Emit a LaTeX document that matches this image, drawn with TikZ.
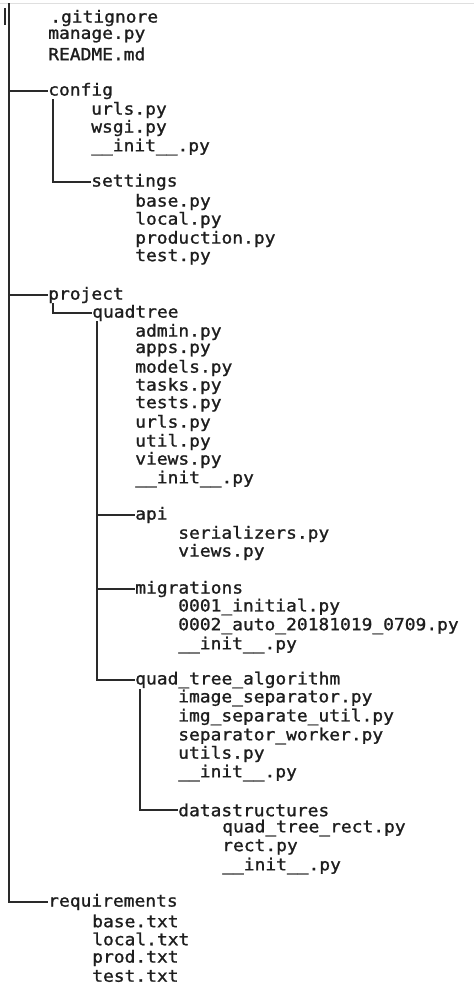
\documentclass[tikz,border=0pt]{standalone}
\usepackage{fontspec}
\newfontfamily\tfont[FakeStretch=1.075,FakeBold=1.2]{DejaVu Sans Mono}
\definecolor{txt}{HTML}{1E1E1E}
\definecolor{lnc}{HTML}{2A2A2A}
\begin{document}
\begin{tikzpicture}[x=0.75pt,y=-0.75pt]
\tikzset{
  f/.style={anchor=west, inner sep=0pt, font=\tfont\fontsize{12.5pt}{14pt}\selectfont, text=txt},
  ln/.style={line width=1.8pt, draw=lnc},
}
\useasboundingbox[fill=white] (0,0) rectangle (474,985);
\draw[gray!25, line width=0.6pt] (0,3) -- (474,3);
\draw[lnc, line width=2.2pt] (5,8) -- (5,25);
% level 0
\node[f] (gitignore) at (50,18) {.gitignore};
\node[f] (manage) at (48,36) {manage.py};
\node[f] (readme) at (48,54) {README.md};
\node[f] (config) at (48,91) {config};
\node[f] (curls) at (91,110) {urls.py};
\node[f] (cwsgi) at (91,128) {wsgi.py};
\node[f] (cinit) at (91,147) {\_\_init\_\_.py};
\node[f] (settings) at (91,182) {settings};
\node[f] (sbase) at (135,202) {base.py};
\node[f] (slocal) at (135,220) {local.py};
\node[f] (sprod) at (135,239) {production.py};
\node[f] (stest) at (135,257) {test.py};
\node[f] (project) at (48,295) {project};
\node[f] (quadtree) at (92,313) {quadtree};
\node[f] (qadmin) at (135,332) {admin.py};
\node[f] (qapps) at (135,350) {apps.py};
\node[f] (qmodels) at (135,368) {models.py};
\node[f] (qtasks) at (135,386) {tasks.py};
\node[f] (qtests) at (135,404) {tests.py};
\node[f] (qurls) at (135,423) {urls.py};
\node[f] (qutil) at (135,442) {util.py};
\node[f] (qviews) at (135,460) {views.py};
\node[f] (qinit) at (135,479) {\_\_init\_\_.py};
\node[f] (api) at (135,515) {api};
\node[f] (aser) at (178,534) {serializers.py};
\node[f] (aviews) at (178,552) {views.py};
\node[f] (migr) at (135,589) {migrations};
\node[f] (m1) at (178,607) {0001\_initial.py};
\node[f] (m2) at (178,626) {0002\_auto\_20181019\_0709.py};
\node[f] (minit) at (178,645) {\_\_init\_\_.py};
\node[f] (qta) at (135,680) {quad\_tree\_algorithm};
\node[f] (t1) at (178,698) {image\_separator.py};
\node[f] (t2) at (178,717) {img\_separate\_util.py};
\node[f] (t3) at (178,736) {separator\_worker.py};
\node[f] (t4) at (178,754) {utils.py};
\node[f] (t5) at (178,773) {\_\_init\_\_.py};
\node[f] (ds) at (178,810) {datastructures};
\node[f] (d1) at (222,828) {quad\_tree\_rect.py};
\node[f] (d2) at (222,847) {rect.py};
\node[f] (d3) at (222,866) {\_\_init\_\_.py};
\node[f] (req) at (48,902) {requirements};
\node[f] (r1) at (92,921) {base.txt};
\node[f] (r2) at (92,939) {local.txt};
\node[f] (r3) at (92,958) {prod.txt};
\node[f] (r4) at (92,976) {test.txt};
% connectors
\coordinate (top) at (9,3);
\draw[ln] (top) |- (req.west);
\draw[ln] (top |- config.west) -- (config.west);
\draw[ln] (top |- project.west) -- (project.west);
\coordinate (c1) at (53,99);
\draw[ln] (c1) |- (settings.west);
\coordinate (p1) at (53,303);
\draw[ln] (p1) |- (quadtree.west);
\coordinate (q1) at (97,321);
\draw[ln] (q1) |- (qta.west);
\draw[ln] (q1 |- api.west) -- (api.west);
\draw[ln] (q1 |- migr.west) -- (migr.west);
\coordinate (a1) at (140,689);
\draw[ln] (a1) |- (ds.west);
\end{tikzpicture}
\end{document}
